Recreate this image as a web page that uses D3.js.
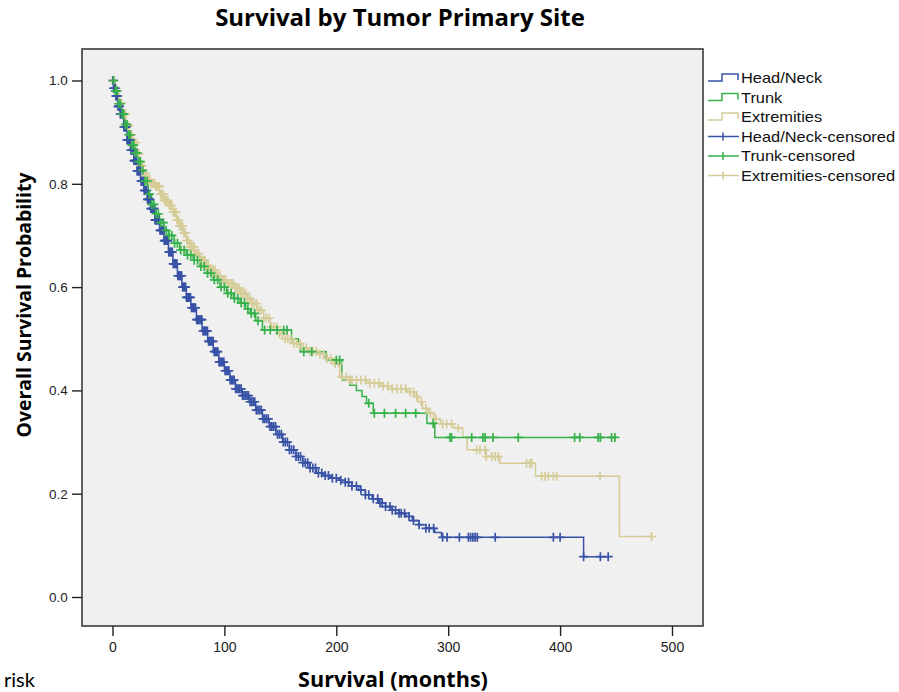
<!DOCTYPE html>
<html><head><meta charset="utf-8">
<script src="https://cdn.jsdelivr.net/npm/d3@7"></script>
<style>body{margin:0;background:#fff}svg{display:block}</style>
</head><body><svg id="c" width="899" height="692"></svg>
<script>
// ---- data ----
const groups = ["Head/Neck", "Trunk", "Extremities"];
const colors = ["#3852a6", "#37b24b", "#d5cc97"];
const xTicks = [0, 100, 200, 300, 400, 500];
const yTicks = [0.0, 0.2, 0.4, 0.6, 0.8, 1.0];

// step times (months) and survival after each step
const headTimes = [1,3,5,7,10,13,16,19,22,25,28,31,34,38,42,46,50,54,58,62,66,70,75,80,85,90,95,100,105,110,116,122,128,134,140,146,152,158,164,170,176,182,188,195,202,208,214,220,226,232,238,244,250,256,262,268,274,280,288,294,421];
const headSurv  = [0.985,0.97,0.95,0.935,0.91,0.885,0.865,0.845,0.825,0.805,0.787,0.77,0.752,0.73,0.71,0.69,0.668,0.645,0.622,0.6,0.58,0.56,0.537,0.515,0.495,0.475,0.455,0.438,0.42,0.403,0.39,0.378,0.362,0.345,0.33,0.315,0.3,0.285,0.272,0.26,0.25,0.24,0.235,0.23,0.226,0.222,0.215,0.207,0.198,0.19,0.182,0.175,0.168,0.162,0.156,0.148,0.14,0.133,0.125,0.1155,0.078];
const headCensor = [0.5,1,1.8,2.4,3,3.7,4.3,5,5.6,6.2,7,7.6,8.3,9,9.6,10.2,11,11.7,12.3,13,13.8,14.4,15,15.8,16.5,17.1,17.8,18.6,19.2,20,20.7,21.3,22,22.8,23.5,24.1,24.9,25.6,26.2,27,27.8,28.4,29.1,29.9,30.6,31.3,32,32.8,33.5,34.2,35,35.7,36.4,37.2,38,38.7,39.4,40.2,41,41.7,42.5,43.3,44,44.8,45.6,46.3,47.1,48,48.7,49.5,50.3,51.1,51.9,52.7,53.5,54.3,55.1,56,56.8,57.6,58.4,59.3,60.1,61,61.8,62.7,63.5,64.4,65.3,66.1,67,67.9,68.8,69.7,70.6,71.5,72.4,73.3,74.2,75.2,76.1,77,78,79,79.9,80.9,81.9,82.8,83.8,84.8,85.8,86.8,87.8,88.9,89.9,90.9,92,93,94.1,95.2,96.2,97.3,98.4,99.5,100.6,101.8,102.9,104,105.2,106.4,107.5,108.7,110,111.2,112.4,113.7,115,116.2,117.5,118.9,120.2,121.5,122.9,124.3,125.7,127.1,128.5,130,131.5,133,134.5,136,137.6,139.2,140.8,142.4,144,145.7,147.4,149.1,150.9,152.6,154.4,156.3,158.1,160,162,164,166,168,170.1,172.2,174.4,176.6,179,181.4,184,187,190,193,196.5,200,204,208,211,214,218,222,226,229,233,237,239,241,244,248,250,253,256,258,261,265,269,274,280,283,287,295,299,310,318,320,322,324,326,342,394,400,421,436,443];

const trunkTimes = [2,5,8,11,14,17,20,23,26,29,32,35,38,42,46,50,55,60,66,72,78,84,90,96,102,108,114,119,123,128,134,160,166,168,191,205,212,218,223,227,233,281,288];
const trunkSurv  = [0.98,0.955,0.935,0.915,0.895,0.875,0.86,0.843,0.826,0.805,0.78,0.76,0.742,0.725,0.71,0.7,0.685,0.672,0.662,0.652,0.64,0.627,0.614,0.6,0.588,0.578,0.569,0.558,0.549,0.535,0.517,0.5,0.49,0.475,0.459,0.42,0.41,0.4,0.388,0.375,0.356,0.336,0.309];
const trunkCensor = [1,2.5,4,5.5,7,8.5,10,11.5,13,14.5,16,17.5,19,20.5,22,23.5,25,27,29,31,33,35,37,39,41,43,45.5,48,50.5,53,55.5,58,61,64,67,70,73,76,79,82,85,88,91,94,97,100,103,106,109,112,115,118,121,124,127,130,136,141,147,153,156,171,178,200,203,229,234,243,253,262,271,286.6,301.6,303,321,331,333,340,362.6,413,417.6,434,436,446,449];

const extTimes = [2,4,6,9,12,15,18,21,24,27,30,34,38,42,46,50,54,57,60,63,66,69,73,78,83,87,92,97,102,108,114,119,124,129,135,141,147,154,161,168,175,183,190,197,203,212,227,240,250,263,270,273,277,282,287,293,305,313,317,334,346,378,453];
const extSurv  = [0.985,0.97,0.956,0.935,0.912,0.895,0.88,0.858,0.835,0.82,0.808,0.8,0.795,0.78,0.768,0.758,0.745,0.73,0.718,0.705,0.69,0.678,0.665,0.652,0.642,0.633,0.622,0.614,0.607,0.598,0.588,0.578,0.568,0.555,0.54,0.523,0.51,0.5,0.491,0.482,0.476,0.47,0.462,0.452,0.426,0.42,0.414,0.408,0.403,0.397,0.388,0.378,0.365,0.356,0.345,0.335,0.327,0.31,0.285,0.272,0.259,0.234,0.117];
const extCensor = [0,0.8,1.6,2.4,3.2,4,4.9,5.7,6.5,7.4,8.2,9.1,10,10.8,11.7,12.6,13.5,14.4,15.3,16.2,17.1,18,19,19.9,20.8,21.8,22.7,23.7,24.6,25.6,26.6,27.5,28.5,29.5,30.5,31.5,32.5,33.5,34.5,35.6,36.6,37.7,38.7,39.8,40.8,41.9,43,44.1,45.2,46.3,47.4,48.5,49.6,50.8,51.9,53.1,54.2,55.4,56.6,57.8,59,60.2,61.4,62.6,63.9,65.1,66.4,67.7,69,70.3,71.6,72.9,74.3,75.6,77,78.4,79.8,81.2,82.6,84.1,85.5,87,88.5,90,91.5,93.1,94.6,96.2,97.8,99.4,101,102.7,104.4,106.1,107.8,109.6,111.4,113.2,115,116.9,118.8,120.7,122.7,124.7,126.7,128.8,130.9,133,135.2,137.4,139.7,142,144.3,146.7,149.1,151.6,154.1,156.7,159.3,162,164.7,167.5,170.3,173.2,176.1,179.1,182.2,185.3,188.5,191.8,195,199,202,205,209,212,214,218,222,226,230,234,238,242,246,250,254,258,262,266,269,272,276,280,284,289,295,298.6,303,309,325.5,328.4,333,334,339,342,344.8,370,373,374.6,383.6,386.5,389.5,394,397,435.7,481.8];

const series = [
  {times: extTimes, surv: extSurv, censor: extCensor, color: colors[2]},
  {times: headTimes, surv: headSurv, censor: headCensor, color: colors[0]},
  {times: trunkTimes, surv: trunkSurv, censor: trunkCensor, color: colors[1]}
];

// ---- drawing ----
const svg = d3.select("#c");
const x = d3.scaleLinear().domain([0, 500]).range([112.5, 672]);
const y = d3.scaleLinear().domain([0, 1]).range([597, 80.5]);
const frame = {l: 82, r: 703, t: 49, b: 626};

svg.append("rect").attr("x", frame.l).attr("y", frame.t)
  .attr("width", frame.r - frame.l).attr("height", frame.b - frame.t)
  .attr("fill", "#f0f0f0");

function survAt(s, t) {
  const i = d3.bisectRight(s.times, t);
  return i === 0 ? 1 : s.surv[i - 1];
}

const plot = svg.append("g");
series.forEach(s => {
  const end = d3.max(s.censor.concat(s.times));
  let d = "M" + x(0) + "," + y(1);
  s.times.forEach((t, i) => {
    d += "H" + x(t) + "V" + y(s.surv[i]);
  });
  d += "H" + x(end);
  plot.append("path").attr("d", d).attr("fill", "none")
    .attr("stroke", s.color).attr("stroke-width", 1.5);
});
series.forEach(s => {
  const g = plot.append("g").attr("stroke", s.color).attr("stroke-width", 1.7);
  s.censor.forEach(t => {
    const cx = x(t), cy = y(survAt(s, t));
    g.append("path").attr("d", `M${cx-4.5},${cy}H${cx+4.5}M${cx},${cy-4.5}V${cy+4.5}`);
  });
});

// frame border
svg.append("rect").attr("x", frame.l).attr("y", frame.t)
  .attr("width", frame.r - frame.l).attr("height", frame.b - frame.t)
  .attr("fill", "none").attr("stroke", "#3a3a3a").attr("stroke-width", 1.6);

// axes
const tickFont = "Liberation Sans, Arial, sans-serif";
const xAxis = d3.axisBottom(x).tickValues(xTicks).tickSize(10).tickSizeOuter(0).tickFormat(d3.format("d"));
const gx = svg.append("g").attr("transform", `translate(0,${frame.b})`).call(xAxis);
gx.select(".domain").remove();
gx.selectAll("line").attr("stroke", "#222").attr("stroke-width", 1.4);
gx.selectAll("text").attr("font-family", tickFont)
  .attr("font-size", 14).attr("fill", "#222").attr("dy", "0.95em");

const yAxis = d3.axisLeft(y).tickValues(yTicks).tickSize(10).tickSizeOuter(0).tickFormat(d3.format(".1f"));
const gy = svg.append("g").attr("transform", `translate(${frame.l},0)`).call(yAxis);
gy.select(".domain").remove();
gy.selectAll("line").attr("stroke", "#222").attr("stroke-width", 1.4);
gy.selectAll("text").attr("font-family", tickFont)
  .attr("font-size", 13.5).attr("fill", "#222").attr("dx", "-0.1em");

// titles, sized to the widths seen in the reference
const labelFont = "'Open Sans', Lato, sans-serif";
function fitted(sel, target) {
  const len = sel.node().getComputedTextLength();
  sel.attr("font-size", 20 * target / len);
  return sel;
}
fitted(svg.append("text").attr("x", 400).attr("y", 26).attr("text-anchor", "middle")
  .attr("font-family", labelFont).attr("font-weight", "bold")
  .attr("font-size", 20).attr("fill", "#000").text("Survival by Tumor Primary Site"), 370);
fitted(svg.append("text").attr("x", 393).attr("y", 687).attr("text-anchor", "middle")
  .attr("font-family", labelFont).attr("font-weight", "bold")
  .attr("font-size", 20).attr("fill", "#000").text("Survival (months)"), 190);
fitted(svg.append("text").attr("transform", "translate(31,305) rotate(-90)").attr("text-anchor", "middle")
  .attr("font-family", labelFont).attr("font-weight", "bold")
  .attr("font-size", 20).attr("fill", "#000").text("Overall Survival Probability"), 265);
svg.append("text").attr("x", 4).attr("y", 687)
  .attr("font-family", "Lato, 'Open Sans', sans-serif")
  .attr("font-size", 20).attr("fill", "#000").text("risk");

// legend
const legendLabels = groups.concat(groups.map(g => g + "-censored"));
const legendColors = colors.concat(colors);
const leg = svg.append("g");
const legTexts = [];
legendLabels.forEach((lab, i) => {
  const ly = 78 + i * 19.5;
  if (i < 3) {
    leg.append("path").attr("d", `M708,${ly+3}H722V${ly-4}H738V${ly+2}`)
      .attr("fill", "none").attr("stroke", legendColors[i]).attr("stroke-width", 1.5);
  } else {
    leg.append("path").attr("d", `M708,${ly}H739M723,${ly-4}V${ly+4}`)
      .attr("fill", "none").attr("stroke", legendColors[i]).attr("stroke-width", 1.5);
  }
  legTexts.push(leg.append("text").attr("x", 741).attr("y", ly).attr("dy", "0.36em")
    .attr("font-family", tickFont).attr("font-size", 14.5)
    .attr("fill", "#111").text(lab));
});
const widest = legTexts[5].node().getComputedTextLength();
const stretch = 154 / widest;
legTexts.forEach(t => {
  t.attr("textLength", t.node().getComputedTextLength() * stretch).attr("lengthAdjust", "spacingAndGlyphs");
});
</script></body></html>
